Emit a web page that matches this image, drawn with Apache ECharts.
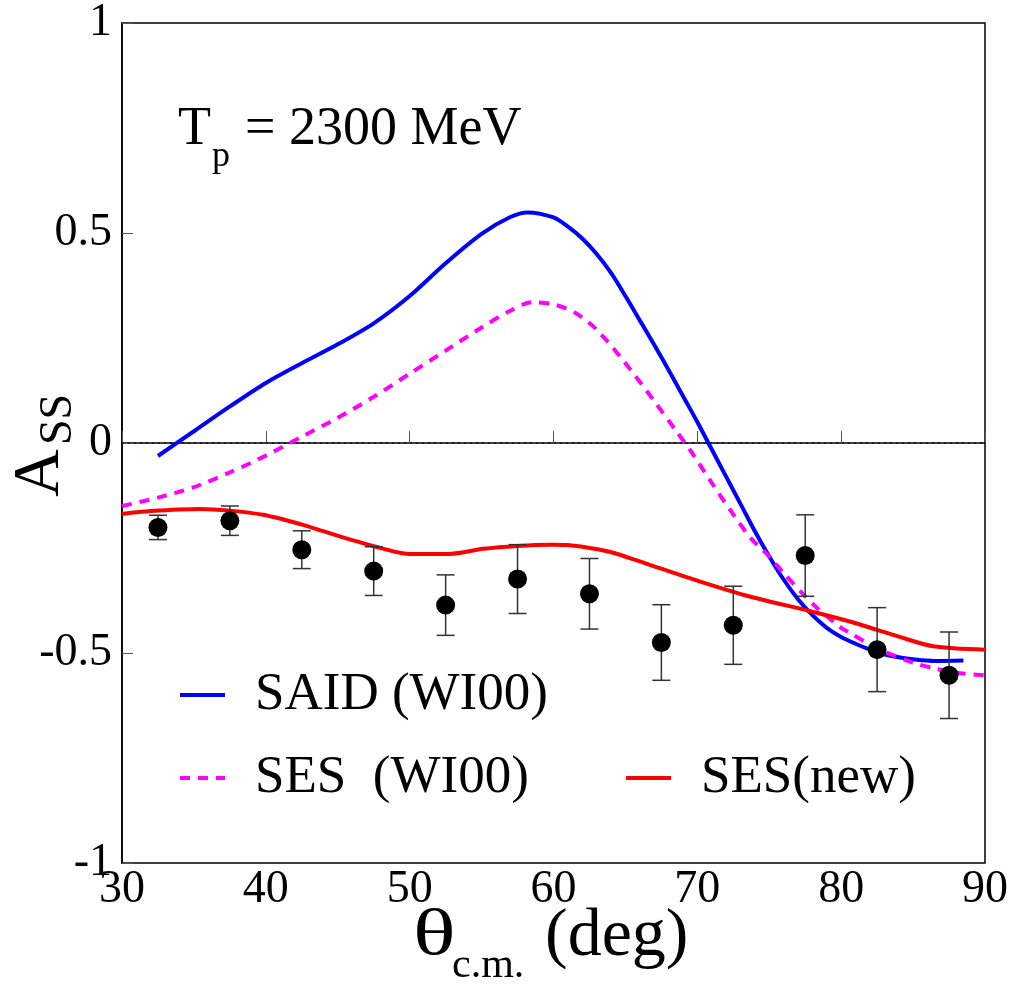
<!DOCTYPE html>
<html><head><meta charset="utf-8">
<script src="https://cdn.jsdelivr.net/npm/echarts@6/dist/echarts.min.js"></script>
<style>html,body{margin:0;padding:0;background:#fff}#c{width:1012px;height:992px}</style>
</head><body><div id="c"></div>
<script>
// ---- data ----
const saidTheta = [32.5,35,37.5,40,42.5,45,47.5,50,52.5,55,57,58.2,60,61,62,63,64,65,66,67,68,69,70,71,72,73,74,75,76,77,78,79,80,81,82,83,84,85,86.5,88.5];
const saidVal   = [-0.031,0.028,0.087,0.143,0.19,0.235,0.285,0.35,0.428,0.498,0.538,0.549,0.537,0.515,0.487,0.45,0.405,0.35,0.292,0.234,0.174,0.112,0.05,-0.015,-0.08,-0.145,-0.21,-0.27,-0.325,-0.372,-0.41,-0.44,-0.462,-0.478,-0.492,-0.503,-0.51,-0.515,-0.519,-0.518];

const sesOldTheta = [30,32.5,35,37.5,40,42.5,45,47.5,50,52.5,55,57,58.5,60,61.5,63,65,67,68.5,69.5,71.1,72.5,73.7,75,76,77.5,78.3,80,80.6,82,83,85,86.5,88,90];
const sesOldVal   = [-0.15,-0.13,-0.105,-0.07,-0.03,0.015,0.06,0.11,0.165,0.22,0.275,0.315,0.335,0.33,0.31,0.27,0.19,0.10,0.03,-0.017,-0.10,-0.17,-0.226,-0.27,-0.31,-0.365,-0.392,-0.44,-0.452,-0.48,-0.497,-0.523,-0.537,-0.547,-0.553];

const sesNewTheta = [30,32,35.4,37.5,39.8,42.4,44,45.9,48.2,50,52.8,55.1,57.5,59.8,61,62.5,63.9,65.3,66.7,70.2,73.7,77.8,80.6,82.5,83.9,86.4,90];
const sesNewVal   = [-0.169,-0.162,-0.157,-0.161,-0.171,-0.193,-0.21,-0.23,-0.252,-0.264,-0.264,-0.252,-0.245,-0.242,-0.243,-0.25,-0.259,-0.274,-0.29,-0.33,-0.366,-0.40,-0.425,-0.445,-0.46,-0.484,-0.492];

const dataTheta = [32.5,37.5,42.5,47.5,52.5,57.5,62.5,67.5,72.5,77.5,82.5,87.5];
const dataVal   = [-0.201,-0.185,-0.254,-0.305,-0.386,-0.324,-0.359,-0.475,-0.434,-0.268,-0.492,-0.553];
const dataErr   = [0.029,0.035,0.045,0.058,0.072,0.082,0.084,0.090,0.093,0.097,0.100,0.103];

const xTicks = [30,40,50,60,70,80,90];
const yTicks = [-1,-0.5,0,0.5,1];

// ---- chart ----
const FONT = "'Liberation Serif', 'DejaVu Serif', serif";
const zip = (a,b) => a.map((v,i)=>[v,b[i]]);
const chart = echarts.init(document.getElementById('c'), null, {renderer:'canvas'});

const legendCommon = {
  orient:'horizontal', padding:0, itemWidth:45, itemHeight:14, itemGap:0,
  selectedMode:false,
  itemStyle:{opacity:0},
  lineStyle:{width:4},
  textStyle:{fontFamily:FONT, fontSize:53, color:'#000', padding:[0,0,0,25], lineHeight:60}
};

const txt = (t, size, extra) => Object.assign({text:t, fontFamily:FONT, fontSize:size, fill:'#000'}, extra||{});

chart.setOption({
  animation:false,
  backgroundColor:'#fff',
  grid:{left:122, right:27, top:23, bottom:129, show:true, borderColor:'#000', borderWidth:1.5, backgroundColor:'transparent'},
  xAxis:{
    type:'value', min:xTicks[0], max:xTicks[xTicks.length-1], interval:10,
    axisLine:{show:true, lineStyle:{color:'#000', width:1.5}},
    axisTick:{show:true, inside:true, length:12, lineStyle:{color:'#555', width:1}},
    axisLabel:{fontFamily:FONT, fontSize:46, color:'#000', margin:4},
    splitLine:{show:false}
  },
  yAxis:{
    type:'value', min:yTicks[0], max:yTicks[yTicks.length-1], interval:0.5,
    axisLine:{show:true, lineStyle:{color:'#000', width:1.5}},
    axisTick:{show:true, inside:true, length:11, lineStyle:{color:'#555', width:1}},
    axisLabel:{fontFamily:FONT, fontSize:46, color:'#000', margin:10},
    splitLine:{show:false}
  },
  legend:[
    Object.assign({}, legendCommon, {left:178, top:665, data:['SAID (WI00)']}),
    Object.assign({}, legendCommon, {left:178, top:748, data:['SES  (WI00)']}),
    Object.assign({}, legendCommon, {left:624, top:748, data:['SES(new)']})
  ],
  series:[
    {name:'zero', type:'line', data:[[30,0],[90,0]], symbol:'none', silent:true,
      lineStyle:{color:'#000', width:1, type:[2,4]}, z:1},
    {name:'SAID (WI00)', type:'line', data:zip(saidTheta,saidVal), symbol:'none', smooth:0.3,
      lineStyle:{color:'#0000ff', width:4}, itemStyle:{color:'#0000ff'}, z:3},
    {name:'SES  (WI00)', type:'line', data:zip(sesOldTheta,sesOldVal), symbol:'none', smooth:0.3,
      lineStyle:{color:'#ff00ff', width:4, type:[10,8]}, itemStyle:{color:'#ff00ff'}, z:3},
    {name:'SES(new)', type:'line', data:zip(sesNewTheta,sesNewVal), symbol:'none', smooth:0.3,
      lineStyle:{color:'#ff0000', width:4}, itemStyle:{color:'#ff0000'}, z:3},
    {name:'err', type:'custom', z:4,
      data:dataTheta.map((t,i)=>[t,dataVal[i],dataErr[i]]),
      renderItem:function(params, api){
        const x=api.value(0), y=api.value(1), e=api.value(2);
        const t=api.coord([x,y+e]), b=api.coord([x,y-e]);
        const hw=9, st={stroke:'#333', lineWidth:1.5};
        return {type:'group', children:[
          {type:'line', shape:{x1:t[0],y1:t[1],x2:b[0],y2:b[1]}, style:st},
          {type:'line', shape:{x1:t[0]-hw,y1:t[1],x2:t[0]+hw,y2:t[1]}, style:st},
          {type:'line', shape:{x1:b[0]-hw,y1:b[1],x2:b[0]+hw,y2:b[1]}, style:st}
        ]};
      }
    },
    {name:'data', type:'scatter', data:zip(dataTheta,dataVal), symbol:'circle', symbolSize:19,
      itemStyle:{color:'#000', opacity:1}, z:5}
  ],
  graphic:[
    {type:'text', left:178, top:103, style:txt('T', 54)},
    {type:'text', left:212, top:139, style:txt('p', 36)},
    {type:'text', left:245, top:103, style:txt('= 2300 MeV', 54)},
    {type:'text', x:413, y:904, scaleX:1.35, style:txt('θ', 66)},
    {type:'text', left:452, top:945, style:txt('c.m.', 42)},
    {type:'text', left:545, top:903, style:txt('(deg)', 68)},
    {type:'group', x:74, y:497, rotation:Math.PI/2, children:[
      {type:'text', x:0, y:-66, style:txt('A', 66)},
      {type:'text', x:52, y:-38, style:txt('SS', 46)}
    ]}
  ]
});
</script></body></html>
